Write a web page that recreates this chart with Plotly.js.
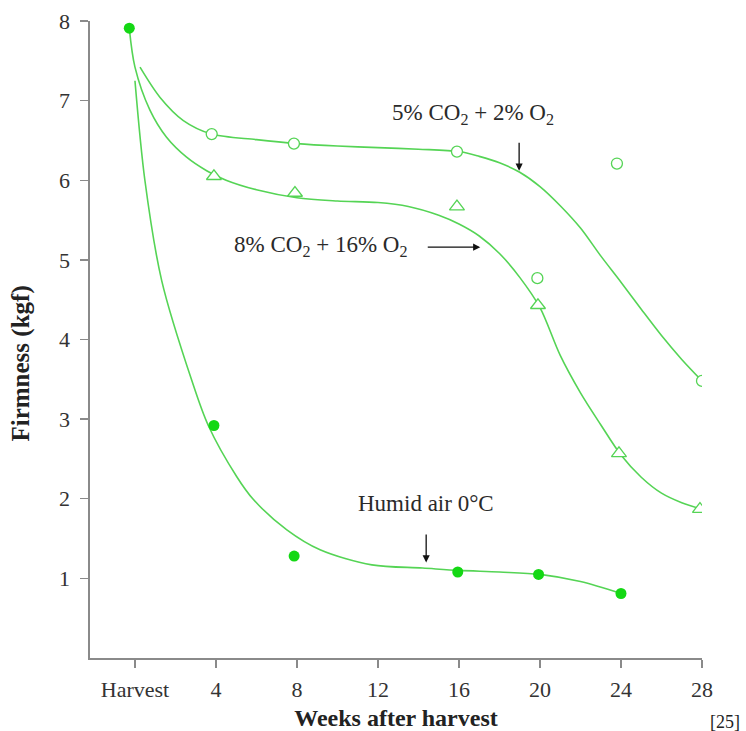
<!DOCTYPE html>
<html>
<head>
<meta charset="utf-8">
<script src="https://cdn.plot.ly/plotly-3.0.1.min.js"></script>
<style>html,body{margin:0;padding:0;background:#fff;}#chart{width:746px;height:731px;}</style>
</head>
<body>
<div id="chart"></div>
<script>
// Tick labels
const xTickVals = [0, 4, 8, 12, 16, 20, 24, 28];
const xTickText = ['Harvest', '4', '8', '12', '16', '20', '24', '28'];
const yTickVals = [1, 2, 3, 4, 5, 6, 7, 8];

// Measured points (weeks after harvest, firmness kgf)
const humidX = [-0.28, 3.9, 7.86, 15.94, 19.93, 24.0];
const humidY = [7.91, 2.92, 1.28, 1.08, 1.05, 0.81];
const co5X = [3.79, 7.85, 15.9, 19.87, 23.8, 28.0];
const co5Y = [6.58, 6.46, 6.36, 4.77, 6.21, 3.48];
const co8X = [3.9, 7.9, 15.9, 19.9, 23.9, 27.9];
const co8Y = [6.05, 5.84, 5.67, 4.43, 2.57, 1.87];

// Fitted curves
const humidFitX = [0, 0.49, 1.32, 2.8, 3.62, 5.02, 5.85, 7.5, 9.14, 11.7, 14.2, 16, 18, 20, 22, 24];
const humidFitY = [7.25, 6.0, 4.74, 3.49, 2.92, 2.28, 1.99, 1.61, 1.36, 1.17, 1.13, 1.10, 1.08, 1.05, 0.96, 0.81];
const co5FitX = [0.25, 1.24, 2.39, 3.79, 6, 8, 10, 12, 14, 16, 17, 18, 19, 20, 21, 22, 23, 24, 25, 26, 27, 28];
const co5FitY = [7.42, 7.04, 6.75, 6.58, 6.51, 6.46, 6.43, 6.41, 6.39, 6.36, 6.30, 6.22, 6.10, 5.92, 5.68, 5.40, 5.05, 4.72, 4.38, 4.05, 3.75, 3.48];
const co8FitX = [-0.28, 0.0, 0.74, 1.56, 2.55, 3.54, 4.5, 6, 8, 10, 12, 13.5, 15, 16, 17, 18, 19, 20, 21, 22, 23, 24, 25, 26, 27, 28];
const co8FitY = [7.91, 7.42, 6.88, 6.54, 6.29, 6.12, 6.0, 5.88, 5.78, 5.74, 5.72, 5.67, 5.56, 5.45, 5.30, 5.08, 4.78, 4.40, 3.80, 3.33, 2.93, 2.55, 2.27, 2.07, 1.95, 1.87];

// Labels
const labelCo5 = '5% CO<sub>2</sub> + 2% O<sub>2</sub>';
const labelCo8 = '8% CO<sub>2</sub> + 16% O<sub>2</sub>';
const labelHumid = 'Humid air 0°C';

const lineGreen = '#55d455';
const dotGreen = '#14d814';
const serif = '"Liberation Serif", "Times New Roman", serif';

const fitLine = {color: lineGreen, width: 1.6, shape: 'spline', smoothing: 0.9};
const traces = [
  {x: humidFitX, y: humidFitY, mode: 'lines', line: fitLine, hoverinfo: 'skip', showlegend: false},
  {x: co5FitX, y: co5FitY, mode: 'lines', line: fitLine, hoverinfo: 'skip', showlegend: false},
  {x: co8FitX, y: co8FitY, mode: 'lines', line: fitLine, hoverinfo: 'skip', showlegend: false},
  {x: humidX, y: humidY, mode: 'markers', name: labelHumid, marker: {symbol: 'circle', size: 11, color: dotGreen}, showlegend: false},
  {x: co5X, y: co5Y, mode: 'markers', name: labelCo5, marker: {symbol: 'circle', size: 11, color: '#ffffff', line: {color: lineGreen, width: 1.3}}, showlegend: false},
  {x: co8X, y: co8Y, mode: 'markers', name: labelCo8, marker: {symbol: 'triangle-up', size: 13, color: '#ffffff', line: {color: lineGreen, width: 1.3}}, showlegend: false}
];

const txtFont = {family: serif, size: 23, color: '#2a2a2a'};
const arrowStyle = {showarrow: true, arrowhead: 2, arrowsize: 1.1, arrowwidth: 1.3, arrowcolor: '#111'};

const layout = {
  width: 746, height: 731,
  margin: {l: 90, r: 44, t: 21, b: 73},
  paper_bgcolor: '#ffffff', plot_bgcolor: '#ffffff',
  showlegend: false,
  font: {family: serif, size: 22, color: '#333'},
  xaxis: {
    range: [-2.22, 28], tickvals: xTickVals, ticktext: xTickText,
    showgrid: false, zeroline: false, showline: true, linecolor: '#8a8a8a', linewidth: 1.6,
    ticks: 'outside', ticklen: 8, tickwidth: 1.3, tickcolor: '#8a8a8a',
    tickfont: {family: serif, size: 22, color: '#333'}, ticklabelstandoff: 3,
    title: {text: '<b>Weeks after harvest</b>', font: {family: serif, size: 24, color: '#222'}, standoff: 8}
  },
  yaxis: {
    range: [0, 8], tickvals: yTickVals,
    showgrid: false, zeroline: false, showline: true, linecolor: '#8a8a8a', linewidth: 1.6,
    ticks: 'outside', ticklen: 8, tickwidth: 1.3, tickcolor: '#8a8a8a',
    tickfont: {family: serif, size: 22, color: '#333'}, ticklabelstandoff: 6
  },
  annotations: [
    {xref: 'paper', yref: 'paper', x: -0.112, y: 0.463, text: '<b>Firmness (kgf)</b>', textangle: -90, showarrow: false, xanchor: 'center', yanchor: 'middle', font: {family: serif, size: 25, color: '#222'}},
    {xref: 'paper', yref: 'paper', x: 1.037, y: -0.1005, text: '[25]', showarrow: false, xanchor: 'center', yanchor: 'middle', font: {family: serif, size: 18, color: '#222'}},
    Object.assign({x: 16.7, y: 6.83, text: labelCo5, xanchor: 'center', yanchor: 'middle', font: txtFont}, {showarrow: false}),
    Object.assign({x: 18.97, y: 6.12, text: ' ', ax: 0, ay: -42}, arrowStyle),
    Object.assign({x: 9.14, y: 5.18, text: labelCo8, xanchor: 'center', yanchor: 'middle', font: txtFont}, {showarrow: false}),
    Object.assign({x: 17.05, y: 5.16, text: ' ', ax: -57, ay: 0}, arrowStyle),
    Object.assign({x: 14.35, y: 1.94, text: labelHumid, xanchor: 'center', yanchor: 'middle', font: txtFont}, {showarrow: false}),
    Object.assign({x: 14.38, y: 1.20, text: ' ', ax: 0, ay: -42}, arrowStyle)
  ]
};

Plotly.newPlot('chart', traces, layout, {staticPlot: true, displayModeBar: false});
</script>
</body>
</html>
